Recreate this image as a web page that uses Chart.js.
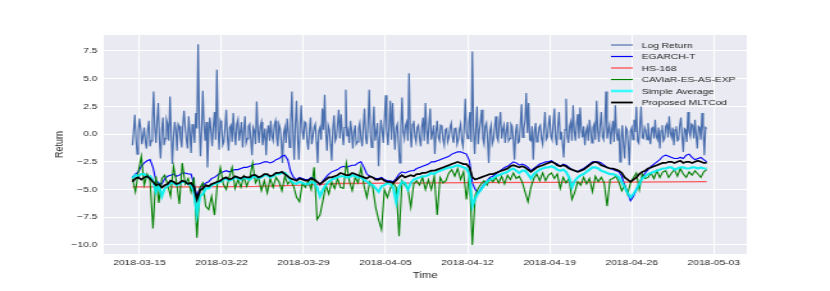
<!DOCTYPE html>
<html>
<head>
<meta charset="utf-8">
<script src="https://cdn.jsdelivr.net/npm/chart.js@4.4.1/dist/chart.umd.min.js"></script>
<style>
  html, body { margin: 0; padding: 0; background: #fff; overflow: hidden; }
  /* the reference figure is stretched sideways, so draw narrow and stretch */
  #wrap { width: 648px; height: 291px; transform: scaleX(1.2809); transform-origin: 0 0; }
</style>
</head>
<body>
<div id="wrap"><canvas id="chart" width="648" height="291"></canvas></div>
<script>
// days are counted from 2018-03-15 00:00
const baseDate = Date.UTC(2018, 2, 15);
const tickLabels = ['2018-03-15', '2018-03-22', '2018-03-29', '2018-04-05', '2018-04-12', '2018-04-19', '2018-04-26', '2018-05-03'];
const yTickValues = [-10, -7.5, -5, -2.5, 0, 2.5, 5, 7.5];

// Log return, one value every 0.1 day from day -0.6
const logReturnStart = -0.6;
const logReturnStep = 0.1;
const logReturn = [
  -1.0, 0.3, 1.75, -0.4, -1.8, 0.2, 1.4, 0.5, -0.9, -0.2, 0.6, -0.7, -1.3, 0.4, 1.2, -1.1, -0.6, 1.0, 3.85, 0.6,
  -0.8, 1.2, 2.8, -0.5, -2.2, 0.3, 1.5, -1.0, -0.4, 1.3, 0.9, -0.6, 3.4, 0.2, -2.7, -0.3, 1.1, 0.4, -1.5, 0.9,
  0.7, -0.4, -1.2, 0.8, 2.1, 0.6, -0.5, -1.3, 1.6, 0.2, -1.7, 0.9, 0.4, -0.8, 1.9, 0.5, 8.1, 1.0, -2.0, 0.4,
  3.9, 0.8, -0.6, 1.1, -3.0, -0.2, 1.5, 0.3, -1.1, 0.7, 2.0, -0.5, 5.8, 0.4, -1.4, 1.2, 0.9, -1.0, -0.7, 0.6,
  2.2, -0.3, -1.5, 0.6, 0.8, -0.7, 1.9, 0.1, -1.0, 0.9, 1.3, -0.6, 0.2, 1.1, -1.2, 0.3, 1.6, -0.8, -0.4, 0.7,
  0.9, -0.5, -1.9, 0.6, 0.3, -0.9, 2.95, 0.4, -0.8, 0.7, 1.1, -1.0, -0.3, 0.5, -1.9, 0.2, 0.8, -0.6, 1.2, -0.2,
  -0.6, 0.8, 1.2, -0.3, -1.1, 0.9, 0.5, -0.7, -2.6, 0.1, 0.6, -0.8, 1.4, 0.3, -1.2, 1.0, 3.85, 0.2, -2.3, 0.9,
  3.0, -0.4, -2.3, 0.7, 2.6, 0.2, -0.5, 1.1, 1.0, -0.6, -1.4, 0.4, 1.5, -0.9, -0.2, 0.6, 0.9, -0.7, -2.6, 0.3,
  0.6, -0.5, 2.3, 0.4, 3.55, 0.1, -1.5, 0.8, 0.4, -0.9, -2.4, 0.5, 1.7, -0.6, -0.3, 0.9, 2.2, -0.4, 1.8, 0.2,
  -1.0, 0.6, 4.0, -0.2, 0.3, -0.8, 1.2, 0.4, -1.3, 0.2, 0.8, -0.9, -0.7, 0.5, 1.0, -0.4, -1.1, 0.7, 2.3, -0.3,
  -0.9, 0.9, 4.0, 0.1, -1.2, 0.6, 2.5, -0.6, 0.2, 1.0, -2.9, -0.3, 1.3, 0.4, -0.8, 1.1, 3.5, 0.2, -1.0, 0.8,
  3.0, -0.5, 2.8, 0.3, -1.4, 0.6, 0.9, -0.8, -2.6, 0.5, 3.3, 0.2, -0.4, 0.8, 1.1, -0.6, 5.5, 0.4, -1.2, 0.9,
  1.2, -0.2, -0.7, 0.6, 0.8, -0.4, -1.1, 0.7, 1.5, -0.6, 2.8, 0.3, -0.9, 0.9, 2.3, -0.5, 0.1, 0.8, -1.8, 0.2,
  1.2, -0.3, -0.6, 0.8, 0.7, -0.5, -1.0, 0.4, 0.5, -0.7, -0.3, 0.6, 1.0, -0.2, -0.8, 0.5, 0.6, -0.9, -0.5, 0.4,
  0.9, -0.6, -1.1, 0.5, 3.2, 0.2, -0.4, 1.0, 2.0, -0.7, 7.45, 0.6, -1.8, 0.4, 2.5, -0.9, 0.3, 1.1, 2.2, -0.4,
  -0.9, 0.7, 1.0, -0.5, -2.6, 0.3, 0.8, -0.9, -0.5, 0.6, 1.6, -0.3, -0.6, 0.9, 2.0, -0.4, 0.4, 0.8, -0.8, 0.2,
  1.1, -0.6, -0.4, 0.9, 0.7, -0.5, -2.3, 0.2, 0.9, -0.8, -0.7, 0.8, 2.7, -0.3, 0.5, 1.2, 3.7, 0.1, 2.8, -0.5,
  -0.6, 0.7, -2.3, 0.2, 1.0, -0.7, -0.4, 0.6, 0.8, -0.4, -0.9, 0.5, 2.0, -0.5, -0.3, 0.8, 1.7, -0.2, -0.5, 0.9,
  2.3, -0.3, -1.0, 0.8, 2.0, -0.5, 0.2, -0.9, -2.1, 0.4, 3.2, -0.2, -0.8, 0.7, 1.1, -0.6, 2.6, 0.3, -0.6, 0.9,
  1.8, -0.4, 2.4, 0.5, -0.3, 0.7, -1.0, 0.2, 0.6, -0.6, 1.3, 0.3, -0.8, 0.6, 0.9, -0.5, 3.0, 0.4, -0.7, 0.8,
  2.0, -0.2, -0.5, 0.9, 3.85, -0.4, 0.3, 0.8, -0.9, 0.4, 1.2, -0.7, 2.6, 0.1, -0.6, 0.5, -2.5, -0.4, 0.8, -1.0,
  -2.2, 0.6, 0.4, -0.9, -2.8, 0.3, 0.6, -0.5, 1.3, 0.2, 2.5, -0.6, -0.8, 0.7, 2.5, -0.3, -0.4, 0.6, 0.3, -0.5,
  1.0, -0.3, -0.9, 0.5, 0.6, -0.4, 1.3, -0.2, -0.5, 0.6, -1.3, 0.3, 0.8, -0.6, -0.4, 0.7, 0.9, -0.3, 1.6, 0.1,
  -0.3, 0.6, -1.0, 0.4, 0.7, -0.6, -0.5, 0.8, 1.5, -0.2, -1.6, 0.5, 0.4, -0.7, 2.0, 0.2, -0.2, 0.9, 0.8, -0.4,
  1.3, -0.2, -1.3, 0.7, 0.6, -0.5, 1.9, 0.3, -1.9, 0.6, 0.5
];

// model forecasts, one value every 0.25 day from day -0.6
const modelStart = -0.6;
const modelStep = 0.25;
const egarchT = [
  -3.9, -3.6, -3.4, -2.9, -2.6, -2.4, -2.3, -3.0, -4.2, -4.4, -4.5, -4.0, -3.8, -3.7, -3.6, -3.8, -3.7, -3.5, -3.5, -3.6,
  -3.6, -4.5, -5.6, -4.9, -4.6, -4.4, -4.3, -4.0, -3.9, -3.7, -3.5, -3.4, -3.3, -3.4, -3.3, -3.2, -3.2, -3.1, -3.0, -3.0,
  -2.9, -2.8, -2.7, -2.7, -2.6, -2.5, -2.5, -2.6, -2.5, -2.3, -2.2, -2.0, -1.9, -2.3, -3.4, -3.9, -4.1, -3.9, -4.0, -4.1,
  -4.1, -3.9, -4.0, -4.3, -4.6, -4.2, -3.9, -3.6, -3.4, -3.3, -3.2, -3.0, -2.9, -3.0, -2.9, -2.8, -2.8, -2.6, -2.5, -3.0,
  -3.6, -3.8, -3.9, -4.0, -4.0, -3.9, -4.1, -4.2, -4.2, -4.3, -4.0, -3.6, -3.4, -3.5, -3.4, -3.3, -3.3, -3.1, -3.0, -2.9,
  -2.8, -2.7, -2.5, -2.5, -2.4, -2.3, -2.2, -2.1, -2.0, -1.8, -1.7, -1.6, -1.6, -1.7, -1.8, -2.4, -4.4, -5.0, -5.3, -4.9,
  -4.5, -4.2, -3.9, -3.8, -3.6, -3.4, -3.2, -3.0, -2.9, -2.7, -2.5, -2.6, -2.8, -2.7, -2.8, -3.0, -3.3, -3.1, -2.9, -2.7,
  -2.6, -2.5, -2.5, -2.4, -2.6, -2.7, -2.9, -2.7, -2.8, -3.0, -3.2, -3.3, -3.4, -3.2, -3.1, -2.9, -2.7, -2.5, -2.5, -2.5,
  -2.6, -2.8, -3.0, -3.1, -3.2, -3.3, -3.4, -3.8, -4.6, -5.3, -6.0, -5.6, -5.0, -4.4, -3.9, -3.5, -3.2, -2.9, -2.7, -2.5,
  -2.3, -2.0, -1.9, -2.0, -2.1, -2.2, -2.2, -2.1, -2.2, -1.9, -1.8, -2.1, -2.3, -2.2, -2.1, -2.3, -2.5
];
const caviar = [
  -4.0, -5.2, -3.4, -2.0, -4.6, -3.6, -4.2, -8.5, -3.8, -6.2, -4.0, -3.7, -4.6, -5.6, -2.9, -4.3, -6.3, -2.6, -4.5, -4.0,
  -5.2, -3.9, -9.35, -4.8, -4.4, -6.5, -6.8, -5.6, -7.3, -4.4, -3.0, -4.5, -5.0, -3.9, -3.0, -4.9, -4.1, -4.8, -3.8, -4.7,
  -4.0, -2.6, -4.4, -3.9, -5.1, -4.2, -5.3, -4.0, -4.8, -3.9, -4.3, -5.1, -3.8, -4.5, -4.2, -4.7, -5.7, -6.1, -4.4, -4.8,
  -4.2, -5.0, -3.0, -7.7, -7.3, -6.0, -4.6, -5.4, -4.3, -4.9, -4.0, -4.8, -4.9, -2.6, -4.2, -5.1, -3.9, -4.4, -3.0, -4.6,
  -5.7, -4.3, -4.8, -6.6, -7.7, -8.6, -5.0, -5.7, -4.9, -4.4, -4.8, -9.2, -4.2, -4.6, -4.9, -6.6, -4.5, -4.2, -4.6, -3.9,
  -5.0, -4.1, -5.0, -3.8, -7.3, -3.9, -4.4, -4.2, -3.5, -3.2, -3.8, -3.1, -4.1, -3.4, -5.9, -3.6, -10.0, -5.5, -4.9, -4.5,
  -4.2, -4.6, -4.0, -4.3, -3.9, -4.4, -3.8, -4.5, -3.7, -4.1, -3.5, -4.0, -3.8, -4.3, -5.2, -6.1, -4.8, -4.0, -3.6, -4.2,
  -3.5, -4.2, -3.7, -3.5, -4.0, -3.6, -4.9, -3.9, -4.4, -4.0, -5.9, -5.2, -4.3, -4.6, -3.9, -4.5, -4.0, -5.2, -3.8, -4.3,
  -3.9, -4.4, -6.5, -4.1, -4.0, -3.8, -4.3, -5.1, -4.6, -5.4, -4.4, -3.9, -3.5, -5.0, -3.6, -4.0, -3.9, -3.5, -4.0, -3.3,
  -3.9, -3.4, -3.3, -3.9, -3.5, -3.2, -3.8, -3.1, -3.6, -3.9, -3.4, -3.7, -3.3, -3.6, -3.9, -3.4, -3.2
];
const simpleAverage = [
  -4.0, -3.7, -3.8, -3.6, -3.6, -3.9, -3.8, -4.2, -5.2, -4.6, -5.6, -4.9, -4.7, -4.4, -4.4, -4.6, -4.5, -4.3, -4.3, -4.5,
  -4.6, -5.2, -7.2, -5.6, -5.4, -4.9, -4.9, -4.6, -4.5, -4.4, -4.3, -4.1, -4.0, -4.2, -4.1, -3.9, -4.0, -4.1, -3.9, -4.0,
  -4.1, -3.9, -3.8, -4.0, -3.9, -3.7, -3.7, -3.9, -3.8, -3.6, -3.6, -3.5, -3.5, -3.8, -4.2, -4.4, -4.5, -4.3, -4.4, -4.5,
  -4.5, -4.3, -4.4, -4.8, -5.6, -5.0, -4.6, -4.3, -4.1, -4.0, -3.9, -3.8, -3.8, -3.9, -3.9, -3.7, -3.8, -3.9, -3.9, -4.1,
  -4.3, -4.5, -4.6, -4.9, -5.2, -4.7, -4.6, -4.4, -4.5, -4.8, -6.1, -4.8, -4.3, -4.4, -5.0, -4.4, -4.1, -4.0, -3.9, -3.8,
  -3.8, -3.7, -3.5, -3.6, -3.4, -3.3, -3.2, -3.1, -3.0, -3.0, -2.9, -2.8, -2.9, -3.0, -3.1, -3.6, -6.5, -5.8, -5.3, -5.0,
  -4.6, -4.3, -4.1, -4.0, -3.8, -3.7, -3.6, -3.5, -3.4, -3.2, -3.1, -3.3, -3.5, -3.3, -3.3, -3.6, -4.0, -3.6, -3.4, -3.2,
  -3.1, -3.0, -3.0, -2.9, -3.0, -3.2, -3.3, -3.2, -3.4, -3.9, -4.8, -4.2, -3.9, -3.7, -3.6, -3.4, -3.2, -3.0, -3.0, -3.1,
  -3.3, -3.4, -3.5, -3.6, -3.6, -3.7, -3.9, -4.3, -4.8, -5.3, -5.7, -5.4, -5.0, -4.5, -4.0, -3.8, -3.6, -3.5, -3.4, -3.3,
  -3.2, -3.1, -3.1, -3.0, -3.0, -3.2, -3.1, -3.0, -3.0, -3.1, -3.1, -3.0, -3.0, -3.1, -3.0, -3.1, -3.1
];
const proposedMLTCod = [
  -4.3, -4.0, -3.9, -4.1, -3.9, -3.8, -4.0, -4.3, -4.6, -4.5, -4.8, -4.6, -4.5, -4.2, -4.3, -4.5, -4.4, -4.2, -4.3, -4.5,
  -4.4, -4.8, -5.9, -5.1, -4.9, -4.6, -4.7, -4.5, -4.4, -4.3, -4.2, -4.0, -3.9, -4.1, -4.0, -3.8, -3.9, -4.0, -3.8, -3.9,
  -3.9, -3.7, -3.7, -3.9, -3.8, -3.6, -3.6, -3.8, -3.7, -3.5, -3.5, -3.4, -3.6, -3.8, -4.0, -4.1, -4.2, -4.0, -4.1, -4.2,
  -4.2, -4.0, -4.1, -4.3, -4.5, -4.3, -4.1, -3.9, -3.9, -3.8, -3.7, -3.5, -3.6, -3.7, -3.7, -3.5, -3.6, -3.7, -3.8, -3.9,
  -4.0, -3.8, -3.9, -4.1, -4.1, -4.0, -4.2, -4.3, -4.3, -4.4, -4.15, -3.9, -3.7, -3.9, -3.8, -3.7, -3.8, -3.6, -3.6, -3.5,
  -3.5, -3.4, -3.3, -3.3, -3.2, -3.1, -3.0, -2.9, -2.8, -2.7, -2.6, -2.5, -2.6, -2.7, -2.7, -3.0, -3.9, -4.1, -4.0, -3.9,
  -3.8, -3.7, -3.6, -3.6, -3.5, -3.4, -3.3, -3.2, -3.1, -2.9, -2.8, -2.9, -3.0, -2.9, -3.0, -3.2, -3.4, -3.2, -3.0, -2.9,
  -2.8, -2.7, -2.6, -2.5, -2.6, -2.8, -2.9, -2.8, -2.9, -3.1, -3.2, -3.3, -3.4, -3.3, -3.2, -3.0, -2.8, -2.6, -2.5, -2.6,
  -2.8, -2.9, -3.0, -3.1, -3.1, -3.2, -3.3, -3.5, -3.9, -4.1, -4.3, -4.1, -3.9, -3.6, -3.4, -3.3, -3.1, -3.0, -2.9, -2.8,
  -2.7, -2.6, -2.6, -2.5, -2.5, -2.6, -2.5, -2.4, -2.6, -2.5, -2.5, -2.6, -2.5, -2.4, -2.5, -2.6, -2.6
];

// HS-168 moves very slowly
const hsDays = [-0.6, 5, 10, 14, 17, 22, 28, 35, 42, 48.4];
const hs168 = [-4.75, -4.75, -4.72, -4.6, -4.45, -4.42, -4.38, -4.35, -4.32, -4.28];

const series = (start, step, values) => values.map((y, i) => ({ x: start + i * step, y: y }));
const tickDays = tickLabels.map(s => (Date.parse(s + 'T00:00:00Z') - baseDate) / 86400000);

const legendItems = [
  { label: 'Log Return', color: '#4c72b0', width: 1.2 },
  { label: 'EGARCH-T', color: '#0000ff', width: 1.2 },
  { label: 'HS-168', color: 'rgba(255,40,40,0.65)', width: 1.6 },
  { label: 'CAViaR-ES-AS-EXP', color: '#008000', width: 1.2 },
  { label: 'Simple Average', color: 'rgba(0,255,255,0.75)', width: 2.6 },
  { label: 'Proposed MLTCod', color: '#000000', width: 1.8 }
];

const areaBackground = {
  id: 'areaBackground',
  beforeDraw(chart) {
    const { ctx, chartArea: a } = chart;
    ctx.save();
    ctx.fillStyle = '#eaeaf2';
    ctx.fillRect(a.left, a.top, a.right - a.left, a.bottom - a.top);
    ctx.restore();
  }
};

const insideLegend = {
  id: 'insideLegend',
  afterDraw(chart) {
    const ctx = chart.ctx;
    ctx.save();
    ctx.font = '8px "Liberation Sans", Arial, sans-serif';
    ctx.textBaseline = 'middle';
    legendItems.forEach((item, i) => {
      const y = 45 + i * 11.5;
      ctx.strokeStyle = item.color;
      ctx.lineWidth = item.width;
      ctx.beginPath();
      ctx.moveTo(477, y);
      ctx.lineTo(494, y);
      ctx.stroke();
      ctx.fillStyle = '#262626';
      ctx.fillText(item.label, 501, y + 0.5);
    });
    ctx.restore();
  }
};

const line = (label, data, color, width, order) => ({
  label, data, borderColor: color, borderWidth: width, order,
  pointRadius: 0, tension: 0, fill: false
});

new Chart(document.getElementById('chart').getContext('2d'), {
  type: 'line',
  data: {
    datasets: [
      line('Log Return', series(logReturnStart, logReturnStep, logReturn), '#4a6fae', 1.2, 6),
      line('EGARCH-T', series(modelStart, modelStep, egarchT), '#0000ff', 1.1, 5),
      line('HS-168', hsDays.map((d, i) => ({ x: d, y: hs168[i] })), 'rgba(255,40,40,0.75)', 1.3, 4),
      line('CAViaR-ES-AS-EXP', series(modelStart, modelStep, caviar), '#008000', 1.1, 3),
      line('Simple Average', series(modelStart, modelStep, simpleAverage), 'rgba(0,240,240,0.9)', 2.2, 2),
      line('Proposed MLTCod', series(modelStart, modelStep, proposedMLTCod), '#000000', 1.7, 1)
    ]
  },
  options: {
    responsive: false,
    animation: false,
    devicePixelRatio: 1,
    layout: { padding: { left: 41, right: 65, top: 35, bottom: 9 } },
    plugins: { legend: { display: false }, tooltip: { enabled: false } },
    scales: {
      x: {
        type: 'linear',
        min: -3.05,
        max: 51.82,
        afterBuildTicks: s => { s.ticks = tickDays.map(v => ({ value: v })); },
        afterFit: s => { s.height = 28; },
        grid: { color: '#ffffff', lineWidth: 1.1, drawTicks: false },
        border: { display: false },
        ticks: {
          autoSkip: false, maxRotation: 0, padding: 4, color: '#262626',
          font: { family: '"Liberation Sans", Arial, sans-serif', size: 8 },
          callback: (v, i) => tickLabels[i]
        },
        title: {
          display: true, text: 'Time', color: '#262626', padding: { top: 0, bottom: 1 },
          font: { family: '"Liberation Sans", Arial, sans-serif', size: 9 }
        }
      },
      y: {
        min: -10.81,
        max: 8.94,
        afterBuildTicks: s => { s.ticks = yTickValues.map(v => ({ value: v })); },
        afterFit: s => { s.width = 40; },
        grid: { color: '#ffffff', lineWidth: 1.1, drawTicks: false },
        border: { display: false },
        ticks: {
          padding: 5, color: '#262626',
          font: { family: '"Liberation Sans", Arial, sans-serif', size: 8 },
          callback: v => v.toFixed(1).replace('-', '\u2212')
        },
        title: {
          display: true, text: 'Return', color: '#262626', padding: { top: 0, bottom: 0 },
          font: { family: '"Liberation Sans", Arial, sans-serif', size: 9 }
        }
      }
    }
  },
  plugins: [areaBackground, insideLegend]
});
</script>
</body>
</html>
